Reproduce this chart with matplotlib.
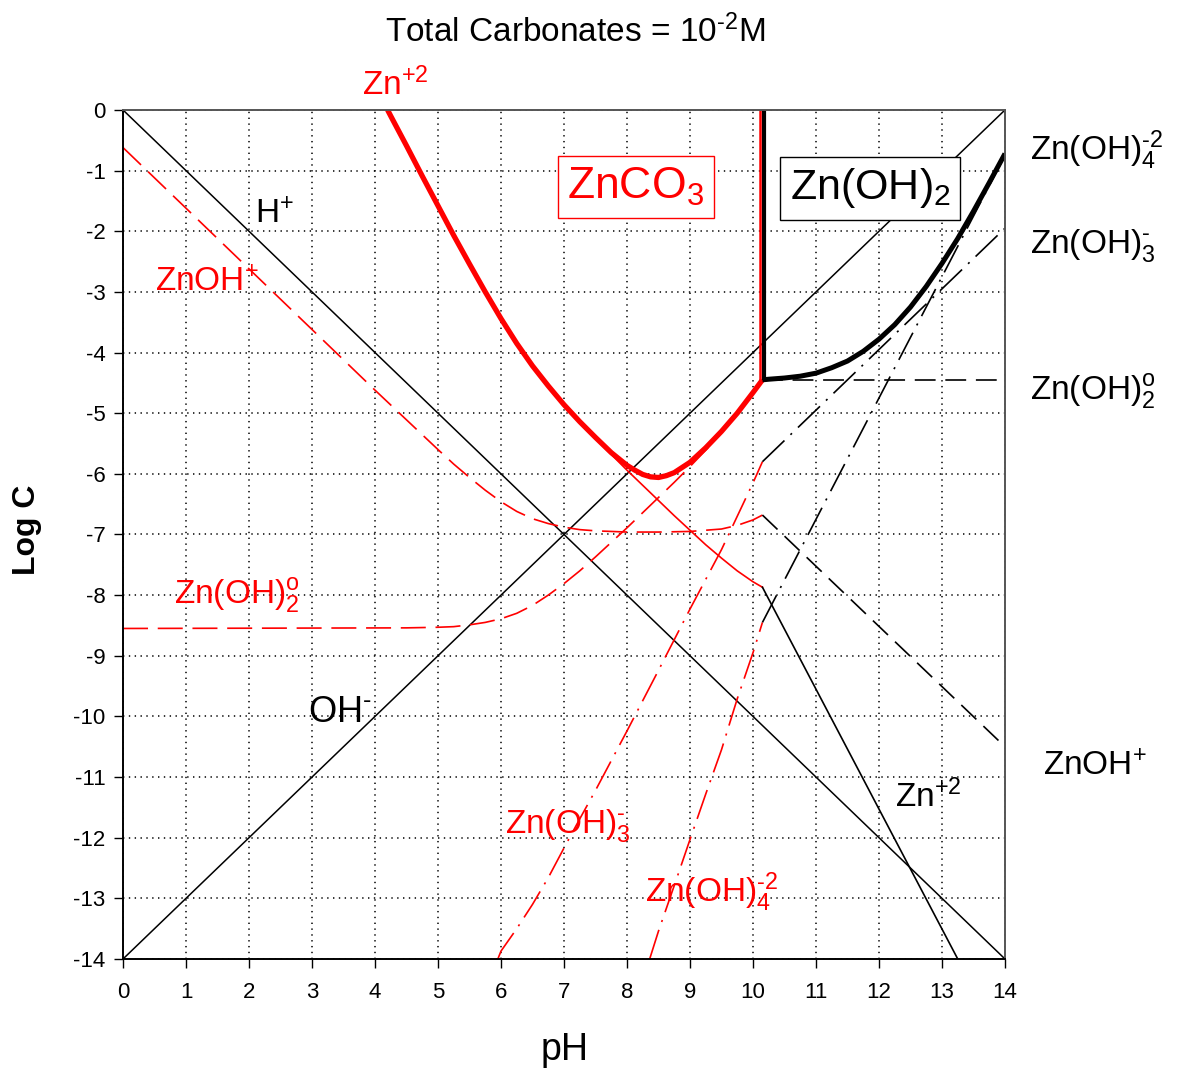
import matplotlib
matplotlib.use("Agg")
import matplotlib.pyplot as plt

plt.rcParams["font.family"] = ["Liberation Sans", "DejaVu Sans"]
plt.rcParams["mathtext.fontset"] = "custom"
plt.rcParams["mathtext.rm"] = "Liberation Sans"
plt.rcParams["mathtext.it"] = "Liberation Sans:italic"
plt.rcParams["mathtext.bf"] = "Liberation Sans:bold"
plt.rcParams["mathtext.default"] = "rm"
plt.rcParams["axes.unicode_minus"] = False
plt.rcParams["lines.scale_dashes"] = False

HY = "\u2010"  # plain hyphen for charges

# water lines
h_ph = [0, 14]
h_log = [0, -14]
oh_log = [-14, 0]

# total dissolved Zn, ZnCO3 controlled (thick red)
tot_co3_ph = [4.2, 4.25, 4.5, 4.75, 5.0, 5.25, 5.5, 5.75, 6.0, 6.25, 6.5, 6.75, 7.0, 7.25, 7.5,
              7.75, 8.0, 8.125, 8.25, 8.375, 8.5, 8.625, 8.75, 9.0, 9.25, 9.5, 9.75, 10.0, 10.15]
tot_co3_log = [0.0, -0.10, -0.59, -1.09, -1.58, -2.07, -2.54, -3.00, -3.44, -3.85, -4.22, -4.55,
               -4.86, -5.14, -5.40, -5.65, -5.86, -5.94, -6.01, -6.05, -6.06, -6.03, -5.98, -5.81,
               -5.57, -5.30, -5.00, -4.66, -4.45]

# total dissolved Zn, Zn(OH)2 controlled (thick black)
tot_oh_ph = [10.15, 10.25, 10.5, 10.75, 11.0, 11.25, 11.5, 11.75, 12.0, 12.25, 12.5, 12.75, 13.0,
             13.25, 13.5, 13.75, 14.0]
tot_oh_log = [-4.45, -4.44, -4.42, -4.39, -4.34, -4.25, -4.14, -3.98, -3.78, -3.54, -3.25, -2.91,
              -2.53, -2.12, -1.67, -1.20, -0.72]

# species under ZnCO3 (red)
zn_ph = [7.5, 7.75, 8.0, 8.25, 8.5, 8.75, 9.0, 9.25, 9.5, 9.75, 10.0, 10.15]
zn_log = [-5.42, -5.68, -5.94, -6.19, -6.44, -6.69, -6.93, -7.17, -7.39, -7.60, -7.78, -7.87]

znoh_ph = [0, 1, 2, 3, 4, 5, 5.25, 5.5, 5.75, 6, 6.25, 6.5, 6.75, 7, 7.25, 7.5, 7.75, 8, 8.5, 9,
           9.25, 9.5, 9.75, 10, 10.15]
znoh_log = [-0.62, -1.62, -2.62, -3.62, -4.62, -5.60, -5.84, -6.06, -6.27, -6.46, -6.62, -6.74,
            -6.82, -6.88, -6.92, -6.94, -6.95, -6.96, -6.96, -6.95, -6.93, -6.91, -6.85, -6.76,
            -6.68]

znoh2_ph = [0, 4.5, 5.0, 5.25, 5.5, 5.75, 6.0, 6.25, 6.5, 6.75, 7.0, 7.25, 7.5, 7.75, 8.0, 8.25,
            8.5, 8.75, 9.0, 9.25, 9.5, 9.75, 10.0, 10.15]
znoh2_log = [-8.55, -8.54, -8.53, -8.52, -8.49, -8.45, -8.39, -8.30, -8.17, -8.00, -7.81, -7.60,
             -7.37, -7.13, -6.89, -6.64, -6.39, -6.14, -5.88, -5.61, -5.32, -5.01, -4.67, -4.45]

znoh3_ph = [5.95, 6.0, 6.25, 6.5, 6.75, 7.0, 7.25, 7.5, 7.75, 8.0, 8.5, 9.0, 9.5, 10.0, 10.15]
znoh3_log = [-14.0, -13.87, -13.5, -13.1, -12.66, -12.17, -11.69, -11.22, -10.73, -10.24, -9.24,
             -8.23, -7.25, -6.15, -5.8]

znoh4_ph = [8.36, 8.5, 8.75, 9.0, 9.25, 9.5, 9.75, 10.0, 10.15]
znoh4_log = [-14.0, -13.54, -12.79, -12.03, -11.28, -10.55, -9.71, -8.95, -8.45]

# species under Zn(OH)2 (black)
bl_ph = [10.15, 14]
bl_znoh2 = [-4.45, -4.45]
bl_znoh = [-6.68, -10.5]
bl_znoh3 = [-5.8, -1.95]
bl_znoh4 = [-8.45, -0.75]
bl_zn_ph = [10.15, 13.25]
bl_zn = [-7.87, -14]

# ZnCO3 / Zn(OH)2 boundary
bnd_red_ph = [10.11, 10.11]
bnd_blk_ph = [10.17, 10.17]
bnd_log = [-4.45, 0]

fig = plt.figure(figsize=(11.84, 10.74), dpi=100)
ax = fig.add_axes([0.1039, 0.1071, 0.7449, 0.7905])

dash = (0, (18, 7))
dashdot = (0, (22, 6, 1.5, 6))
bdash = (0, (15, 7))

ax.plot(h_ph, h_log, color="black", lw=1.1)
ax.plot(h_ph, oh_log, color="black", lw=1.1)

ax.plot(znoh_ph, znoh_log, color="red", lw=1.2, linestyle=dash)
ax.plot(znoh2_ph, znoh2_log, color="red", lw=1.2, linestyle=dash)
ax.plot(znoh3_ph, znoh3_log, color="red", lw=1.2, linestyle=dashdot)
ax.plot(znoh4_ph, znoh4_log, color="red", lw=1.2, linestyle=dashdot)
ax.plot(zn_ph, zn_log, color="red", lw=1.2)

ax.plot(bl_ph, bl_znoh2, color="black", lw=1.2, linestyle=bdash)
ax.plot(bl_ph, bl_znoh, color="black", lw=1.2, linestyle=bdash)
ax.plot(bl_ph, bl_znoh3, color="black", lw=1.2, linestyle=dashdot)
ax.plot(bl_ph, bl_znoh4, color="black", lw=1.2, linestyle=dashdot)
ax.plot(bl_zn_ph, bl_zn, color="black", lw=1.2)

ax.plot(tot_co3_ph, tot_co3_log, color="red", lw=3.8, solid_capstyle="butt")
ax.plot(tot_oh_ph, tot_oh_log, color="black", lw=3.6, solid_capstyle="butt")
ax.plot(bnd_blk_ph, bnd_log, color="black", lw=3.0, solid_capstyle="butt")
ax.plot(bnd_red_ph, bnd_log, color="red", lw=1.8, solid_capstyle="butt")

ax.set_xlim(0, 14)
ax.set_ylim(-14, 0)
ax.set_xticks(range(0, 15))
ax.set_yticks(range(-14, 1))
ax.tick_params(direction="out", length=6.5, width=1, labelsize=16, pad=6)
ax.tick_params(axis="x", pad=10)
ax.grid(True, color="black", linestyle=(0, (1, 3.2)), lw=1.1)
for s in ["left", "bottom"]:
    ax.spines[s].set_color("black")
    ax.spines[s].set_linewidth(1.4)
for s in ["top", "right"]:
    ax.spines[s].set_color("#555555")
    ax.spines[s].set_linewidth(1.4)

lab = dict(fontsize=24, ha="center", va="center", clip_on=False)
ax.text(4.32, 0.41, "Zn$^{+2}$", color="red", **lab)
ax.text(8.14, -1.27, "ZnCO$_3$", color="red", fontsize=32, ha="center", va="center",
        bbox=dict(boxstyle="square,pad=0.22", fc="white", ec="red", lw=1))
ax.text(11.86, -1.29, "Zn(OH)$_2$", color="black", fontsize=31, ha="center", va="center",
        bbox=dict(boxstyle="square,pad=0.22", fc="white", ec="black", lw=1))
ax.text(2.41, -1.73, "H$^{+}$", color="black", **lab)
ax.text(1.33, -2.85, "ZnOH$^{+}$", color="red", **lab)
ax.text(1.81, -8.0, "Zn(OH)$_2^{o}$", color="red", **lab)
ax.text(3.44, -9.94, "OH$^{" + HY + "}$", color="black", fontsize=26, ha="center", va="center")
ax.text(7.06, -11.8, "Zn(OH)$_3^{" + HY + "}$", color="red", **lab)
ax.text(9.35, -12.9, "Zn(OH)$_4^{" + HY + "2}$", color="red", **lab)
ax.text(12.78, -11.33, "Zn$^{+2}$", color="black", **lab)

rlab = dict(fontsize=24, ha="left", va="center", clip_on=False, color="black")
ax.text(14.4, -0.66, "Zn(OH)$_4^{" + HY + "2}$", **rlab)
ax.text(14.4, -2.23, "Zn(OH)$_3^{" + HY + "}$", **rlab)
ax.text(14.4, -4.65, "Zn(OH)$_2^{o}$", **rlab)
ax.text(14.6, -10.83, "ZnOH$^{+}$", **rlab)

fig.text(0.486, 0.970, "Total Carbonates = 10$^{" + HY + "2}$M", fontsize=24, ha="center",
         va="center")
fig.text(0.477, 0.0223, "pH", fontsize=27, ha="center", va="center")
fig.text(0.0228, 0.5065, "Log C", fontsize=23, fontweight="bold", rotation=90,
         ha="center", va="center")

fig.savefig("out.png", dpi=100)
